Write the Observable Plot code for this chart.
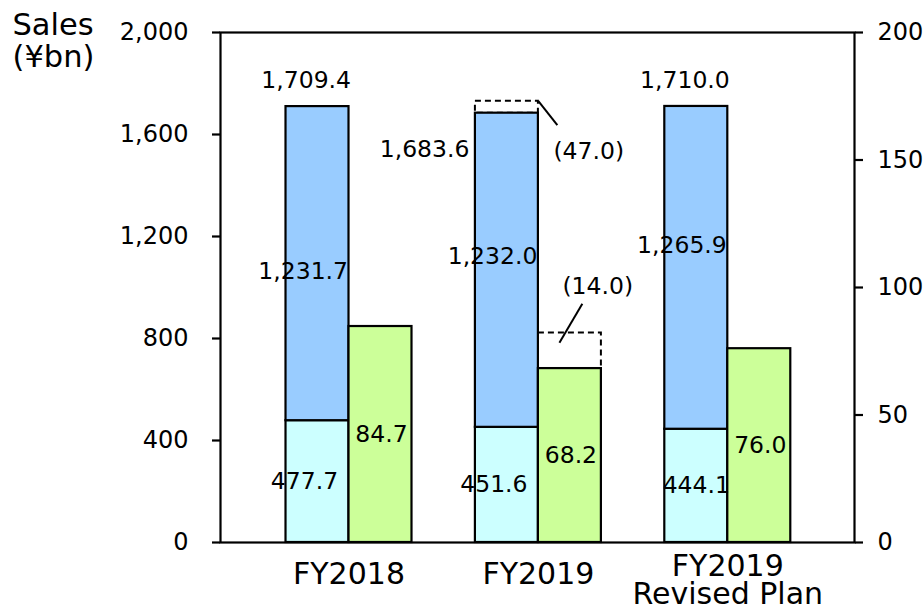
<!DOCTYPE html>
<html>
<head>
<meta charset="utf-8">
<script src="https://cdn.jsdelivr.net/npm/d3@7"></script>
<script src="https://cdn.jsdelivr.net/npm/@observablehq/plot@0.6"></script>
<style>
  html, body { margin: 0; padding: 0; background: #fff; }
  #chart { width: 923px; height: 612px; }
</style>
</head>
<body>
<div id="chart"></div>
<script>
// ---- data ----
const categories = ["FY2018", "FY2019", "FY2019\nRevised Plan"];
const lowerSales = [477.7, 451.6, 444.1];
const upperSales = [1231.7, 1232.0, 1265.9];
const totalSales = [1709.4, 1683.6, 1710.0];
const rightValues = [84.7, 68.2, 76.0];
const shortfallIndex = [1];
const shortfallTotal = [47.0];
const shortfallRight = [14.0];
const leftTicks = [0, 400, 800, 1200, 1600, 2000];
const rightTicks = [0, 50, 100, 150, 200];
const axisTitle = "Sales\n(¥bn)";

// ---- layout helpers ----
const k = 2000 / 200;           // right axis -> left axis
const w = 0.3326;               // bar width in category units
const fmt1 = d3.format(",.1f");

const rows = categories.map((c, i) => ({
  i, c,
  lower: lowerSales[i], upper: upperSales[i], total: totalSales[i],
  right: rightValues[i]
}));
const shortRows = shortfallIndex.map((i, j) => ({
  i, total: totalSales[i], diff: shortfallTotal[j],
  right: rightValues[i], rdiff: shortfallRight[j]
}));

const midNudge = [8, -13.5, -22];
const lowNudge = [-13, -13, 0];
const lbl = {fontSize: 23.5, fill: "black", lineAnchor: "middle"};

const plot = Plot.plot({
  width: 923,
  height: 612,
  marginTop: 32,
  marginBottom: 70,
  marginLeft: 220,
  marginRight: 69,
  style: {fontFamily: "'DejaVu Sans', Verdana, sans-serif", background: "white", color: "black"},
  x: {type: "linear", domain: [-0.6785, 2.669]},
  y: {domain: [0, 2000]},
  marks: [
    // dashed previous-plan boxes
    Plot.rect(shortRows, {x1: d => d.i - w, x2: d => d.i, y1: d => d.total, y2: d => d.total + d.diff,
      fill: "none", stroke: "black", strokeWidth: 2, strokeDasharray: "6,4"}),
    Plot.rect(shortRows, {x1: d => d.i, x2: d => d.i + w, y1: d => d.right * k, y2: d => (d.right + d.rdiff) * k,
      fill: "none", stroke: "black", strokeWidth: 2, strokeDasharray: "6,4"}),
    // stacked bars
    Plot.rect(rows, {x1: d => d.i - w, x2: d => d.i, y1: 0, y2: d => d.lower,
      fill: "#CCFFFF", stroke: "black", strokeWidth: 2.2}),
    Plot.rect(rows, {x1: d => d.i - w, x2: d => d.i, y1: d => d.lower, y2: d => d.total,
      fill: "#99CCFF", stroke: "black", strokeWidth: 2.2}),
    Plot.rect(rows, {x1: d => d.i, x2: d => d.i + w, y1: 0, y2: d => d.right * k,
      fill: "#CCFF99", stroke: "black", strokeWidth: 2.2}),
    // leader lines
    Plot.link(shortRows, {x1: d => d.i, y1: d => d.total + d.diff, x2: d => d.i + 0.1, y2: d => d.total + d.diff - 94,
      stroke: "black", strokeWidth: 2}),
    Plot.link(shortRows, {x1: d => d.i + 0.111, y1: d => (d.right + d.rdiff - 3.9) * k, x2: d => d.i + 0.232, y2: d => (d.right + d.rdiff + 11.4) * k,
      stroke: "black", strokeWidth: 2}),
    // frame
    Plot.frame({stroke: "black", strokeWidth: 2.2}),
    // axes
    Plot.axisY(leftTicks, {anchor: "left", tickSize: 8, tickPadding: 24, fontSize: 24,
      tickFormat: d3.format(","), strokeWidth: 2.2}),
    Plot.axisY(rightTicks.map(v => v * k), {anchor: "right", tickSize: 8, tickPadding: 15, fontSize: 24,
      tickFormat: d => d / k, strokeWidth: 2.2}),
    Plot.axisX([0, 1], {anchor: "bottom", tickSize: 0, tickPadding: 20, fontSize: 30,
      tickFormat: i => categories[i]}),
    Plot.axisX([2], {anchor: "bottom", tickSize: 0, tickPadding: 14, fontSize: 30, lineHeight: 0.92,
      tickFormat: i => categories[i]}),
    // axis title
    Plot.text([axisTitle], {frameAnchor: "top-left", dx: -208, dy: -20, text: d => d,
      textAnchor: "start", lineAnchor: "top", fontSize: 30.5, lineHeight: 1.05, fill: "black"}),
    // total labels
    Plot.text(rows.filter(d => d.i !== 1), {x: d => d.i, y: d => d.total, text: d => fmt1(d.total),
      textAnchor: "end", dx: 2, dy: -26, ...lbl}),
    Plot.text(rows.filter(d => d.i === 1), {x: d => d.i - w, y: d => d.total, text: d => fmt1(d.total),
      textAnchor: "end", dx: -6, dy: 36, ...lbl}),
    // upper segment labels
    Plot.text(rows, {x: d => d.i, y: d => d.lower + d.upper / 2 - midNudge[d.i] / 0.255, text: d => fmt1(d.upper),
      textAnchor: "end", dx: -1, ...lbl}),
    // lower segment labels
    Plot.text(rows, {x: d => d.i - w / 2 + lowNudge[d.i] / 189.4, y: d => d.lower / 2, text: d => fmt1(d.lower),
      textAnchor: "middle", ...lbl}),
    // right-axis bar labels
    Plot.text(rows, {x: d => d.i + w / 2, y: d => d.right * k / 2, text: d => fmt1(d.right),
      textAnchor: "middle", dx: 1, ...lbl}),
    // shortfall annotations
    Plot.text(shortRows, {x: d => d.i, y: d => d.total, text: d => `(${fmt1(d.diff)})`,
      textAnchor: "start", dx: 15, dy: 38, ...lbl}),
    Plot.text(shortRows, {x: d => d.i, y: d => (d.right + d.rdiff) * k, text: d => `(${fmt1(d.rdiff)})`,
      textAnchor: "start", dx: 24, dy: -46, ...lbl})
  ]
});
document.getElementById("chart").appendChild(plot);
</script>
</body>
</html>
